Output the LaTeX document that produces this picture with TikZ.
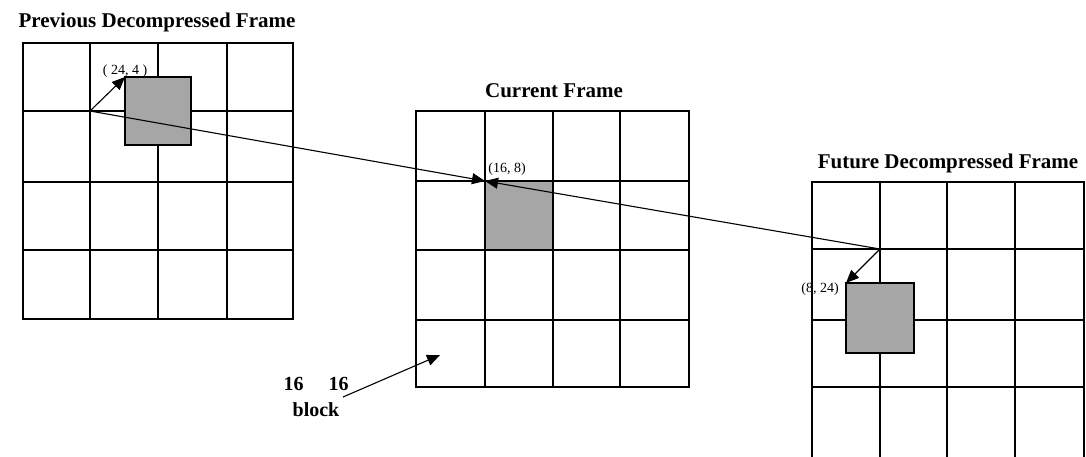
\documentclass[tikz,border=0pt]{standalone}
\usepackage{fontspec}
\setmainfont{Liberation Serif}
\usetikzlibrary{arrows.meta}
\definecolor{blockgray}{HTML}{A6A6A6}
\begin{document}
\begin{tikzpicture}[x=1pt,y=-1pt,
  gridline/.style={line width=1.3pt},
  blockbox/.style={draw,line width=1.3pt,fill=blockgray,inner sep=0pt,outer sep=0pt,anchor=north west},
  conn/.style={line width=1.1pt,-{Triangle[length=13pt,width=11pt]}},
  titletext/.style={font=\fontsize{21}{25}\selectfont\bfseries,anchor=base,inner sep=0pt},
  coordtext/.style={font=\fontsize{14}{16}\selectfont,anchor=base,inner sep=0pt},
  blocktext/.style={font=\fontsize{20}{24}\selectfont\bfseries,anchor=base,inner sep=0pt}]
\useasboundingbox[fill=white] (0,0) rectangle (1086,456);

% Previous frame grid
\draw[gridline] (23,43) rectangle (293,319);
\foreach \x in {90,158,227} \draw[gridline] (\x,43) -- (\x,319);
\foreach \y in {111,182,250} \draw[gridline] (23,\y) -- (293,\y);

% Current frame grid
\draw[gridline] (416,111) rectangle (689,387);
\foreach \x in {485,553,620} \draw[gridline] (\x,111) -- (\x,387);
\foreach \y in {181,250,320} \draw[gridline] (416,\y) -- (689,\y);

% Future frame grid (cut off at the bottom)
\begin{scope}
\clip (0,0) rectangle (1086,456);
\draw[gridline] (812,470) -- (812,182) -- (1084,182) -- (1084,470);
\foreach \x in {880,947,1015} \draw[gridline] (\x,182) -- (\x,470);
\foreach \y in {249,320,387} \draw[gridline] (812,\y) -- (1084,\y);
\end{scope}

% Titles
\node[titletext] (prevtitle) at (157,27) {Previous Decompressed Frame};
\node[titletext] (curtitle) at (554,97) {Current Frame};
\node[titletext] (futtitle) at (948,168) {Future Decompressed Frame};

% Blocks
\node[blockbox,minimum width=66pt,minimum height=68pt] (prevblock) at (125,77) {};
\node[blockbox,minimum width=68pt,minimum height=69pt] (curblock) at (485,181) {};
\node[blockbox,minimum width=68pt,minimum height=70pt] (futblock) at (846,283) {};

\coordinate (prevcorner) at (90,111);
\coordinate (futcorner) at (880,249);

% Motion vectors
\draw[conn] (prevcorner) -- (prevblock.north west);
\draw[conn] (futcorner) -- (futblock.north west);
\draw[conn] (prevcorner) -- (curblock.north west);
\draw[conn] (futcorner) -- (curblock.north west);

% Coordinate labels
\node[coordtext] (prevlabel) at (125,74) {( 24, 4 )};
\node[coordtext] (curlabel) at (507,172) {(16, 8)};
\node[coordtext] (futlabel) at (820,292) {(8, 24)};

% 16 x 16 block label
\node[blocktext] (sixteen) at (316,390) {16\hspace{25pt}16};
\node[blocktext] (blocklabel) at (316,416) {block};
\coordinate (blockstart) at (343,397);
\coordinate (blockend) at (440,355);
\draw[conn] (blockstart) -- (blockend);
\end{tikzpicture}
\end{document}
